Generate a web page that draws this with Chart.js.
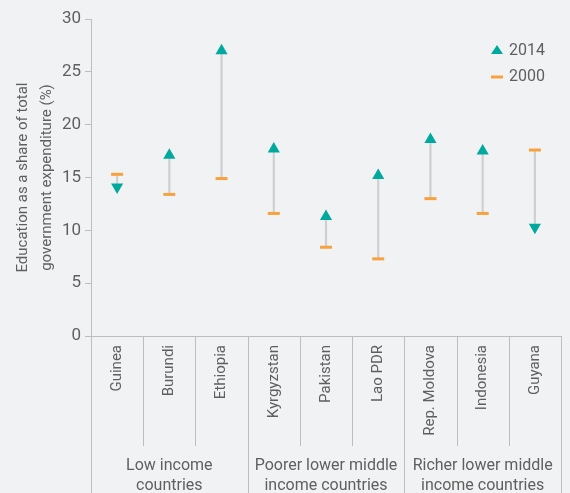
<!DOCTYPE html>
<html>
<head>
<meta charset="utf-8">
<script src="https://cdn.jsdelivr.net/npm/chart.js@4.4.1/dist/chart.umd.min.js"></script>
<style>
  html, body { margin: 0; padding: 0; background: #f1f2f4; }
  canvas { display: block; }
</style>
</head>
<body>
<canvas id="eduChart" width="570" height="493"></canvas>
<script>
// data
const countries = ["Guinea", "Burundi", "Ethiopia", "Kyrgyzstan", "Pakistan", "Lao PDR", "Rep. Moldova", "Indonesia", "Guyana"];
const share2014 = [14.1, 17.1, 27.0, 17.7, 11.3, 15.2, 18.6, 17.5, 10.3];
const share2000 = [15.3, 13.4, 14.9, 11.6, 8.4, 7.3, 13.0, 11.6, 17.6];
const groupNames = [["Low income", "countries"], ["Poorer lower middle", "income countries"], ["Richer lower middle", "income countries"]];
const groupSizes = [3, 3, 3];
const yTicks = [0, 5, 10, 15, 20, 25, 30];

const TEAL = "#00a99d";
const ORANGE = "#f7a23c";
const GREY_LINE = "#bdbdbd";
const CONNECTOR = "#cfcfcf";
const TEXT = "#5f5f5f";
const FONT = "Roboto";

// triangle points up when 2014 is higher than 2000
const rotations = share2014.map((v, i) => (v >= share2000[i] ? 0 : 180));
const ranges = share2014.map((v, i) => [share2000[i], v]);

// group labels + divider lines under the x axis
const groupAxisPlugin = {
  id: "groupAxis",
  afterDraw(chart) {
    const ctx = chart.ctx;
    const xs = chart.scales.x;
    const area = chart.chartArea;
    const half = (xs.getPixelForValue(1) - xs.getPixelForValue(0)) / 2;
    const bottom = chart.height;
    const shortEnd = area.bottom + 110;

    ctx.save();
    ctx.strokeStyle = GREY_LINE;
    ctx.lineWidth = 1;

    let idx = 0;
    groupSizes.forEach((size, g) => {
      const left = xs.getPixelForValue(idx) - half;
      const right = xs.getPixelForValue(idx + size - 1) + half;
      // group boundaries run to the bottom
      [left, right].forEach((x) => {
        const px = Math.round(x) + 0.5;
        ctx.beginPath();
        ctx.moveTo(px, area.bottom);
        ctx.lineTo(px, bottom);
        ctx.stroke();
      });
      // inner dividers
      for (let k = 1; k < size; k++) {
        const px = Math.round(xs.getPixelForValue(idx + k) - half) + 0.5;
        ctx.beginPath();
        ctx.moveTo(px, area.bottom);
        ctx.lineTo(px, shortEnd);
        ctx.stroke();
      }
      // labels
      ctx.fillStyle = TEXT;
      ctx.font = "16px " + FONT;
      ctx.textAlign = "center";
      ctx.textBaseline = "middle";
      const cx = (left + right) / 2;
      groupNames[g].forEach((line, li) => {
        ctx.fillText(line, cx, area.bottom + 130 + li * 20);
      });
      idx += size;
    });
    ctx.restore();
  },
};

// small legend in the top right corner
const legendPlugin = {
  id: "cornerLegend",
  afterDraw(chart) {
    const ctx = chart.ctx;
    const x0 = 497;
    const y0 = 50;
    ctx.save();
    ctx.fillStyle = TEAL;
    ctx.beginPath();
    ctx.moveTo(x0, y0 - 5);
    ctx.lineTo(x0 + 6, y0 + 4);
    ctx.lineTo(x0 - 6, y0 + 4);
    ctx.closePath();
    ctx.fill();

    ctx.strokeStyle = ORANGE;
    ctx.lineWidth = 3;
    ctx.beginPath();
    ctx.moveTo(x0 - 6, y0 + 27);
    ctx.lineTo(x0 + 6, y0 + 27);
    ctx.stroke();

    ctx.fillStyle = TEXT;
    ctx.font = "16px " + FONT;
    ctx.textAlign = "left";
    ctx.textBaseline = "middle";
    ctx.fillText("2014", x0 + 12, y0 + 1);
    ctx.fillText("2000", x0 + 12, y0 + 27);
    ctx.restore();
  },
};

const ctx = document.getElementById("eduChart").getContext("2d");
new Chart(ctx, {
  type: "bar",
  data: {
    labels: countries,
    datasets: [
      {
        type: "line",
        label: "2014",
        data: share2014,
        showLine: false,
        pointStyle: "triangle",
        pointRotation: rotations,
        pointRadius: 7,
        pointBackgroundColor: TEAL,
        pointBorderColor: TEAL,
        pointBorderWidth: 0,
      },
      {
        type: "line",
        label: "2000",
        data: share2000,
        showLine: false,
        pointStyle: "line",
        pointRadius: 6,
        pointBorderColor: ORANGE,
        pointBorderWidth: 3,
      },
      {
        label: "change",
        data: ranges,
        backgroundColor: CONNECTOR,
        barThickness: 1.5,
        borderWidth: 0,
      },
    ],
  },
  options: {
    responsive: false,
    devicePixelRatio: 1,
    animation: false,
    layout: { padding: { top: 19, right: 1, bottom: 0, left: 0 } },
    plugins: {
      legend: { display: false },
      tooltip: { enabled: false },
    },
    scales: {
      x: {
        type: "category",
        offset: true,
        grid: { display: false, drawTicks: false },
        border: { display: true, color: GREY_LINE, width: 1 },
        ticks: {
          autoSkip: false,
          minRotation: 90,
          maxRotation: 90,
          padding: 9,
          color: TEXT,
          font: { family: FONT, size: 15 },
        },
        afterFit: (scale) => {
          scale.height = 157;
        },
      },
      y: {
        min: 0,
        max: 30,
        afterBuildTicks: (scale) => {
          scale.ticks = yTicks.map((v) => ({ value: v }));
        },
        grid: { display: true, drawOnChartArea: false, drawTicks: true, tickLength: 6, color: GREY_LINE },
        border: { display: true, color: GREY_LINE, width: 1 },
        ticks: {
          padding: 4,
          color: TEXT,
          font: { family: FONT, size: 17 },
        },
        title: {
          display: true,
          text: ["Education as a share of total", "government expenditure (%)"],
          color: TEXT,
          font: { family: FONT, size: 15, lineHeight: 1.6 },
          padding: { top: 11, bottom: 0 },
        },
        afterFit: (scale) => {
          scale.width = 91;
        },
      },
    },
  },
  plugins: [groupAxisPlugin, legendPlugin],
});
</script>
</body>
</html>
